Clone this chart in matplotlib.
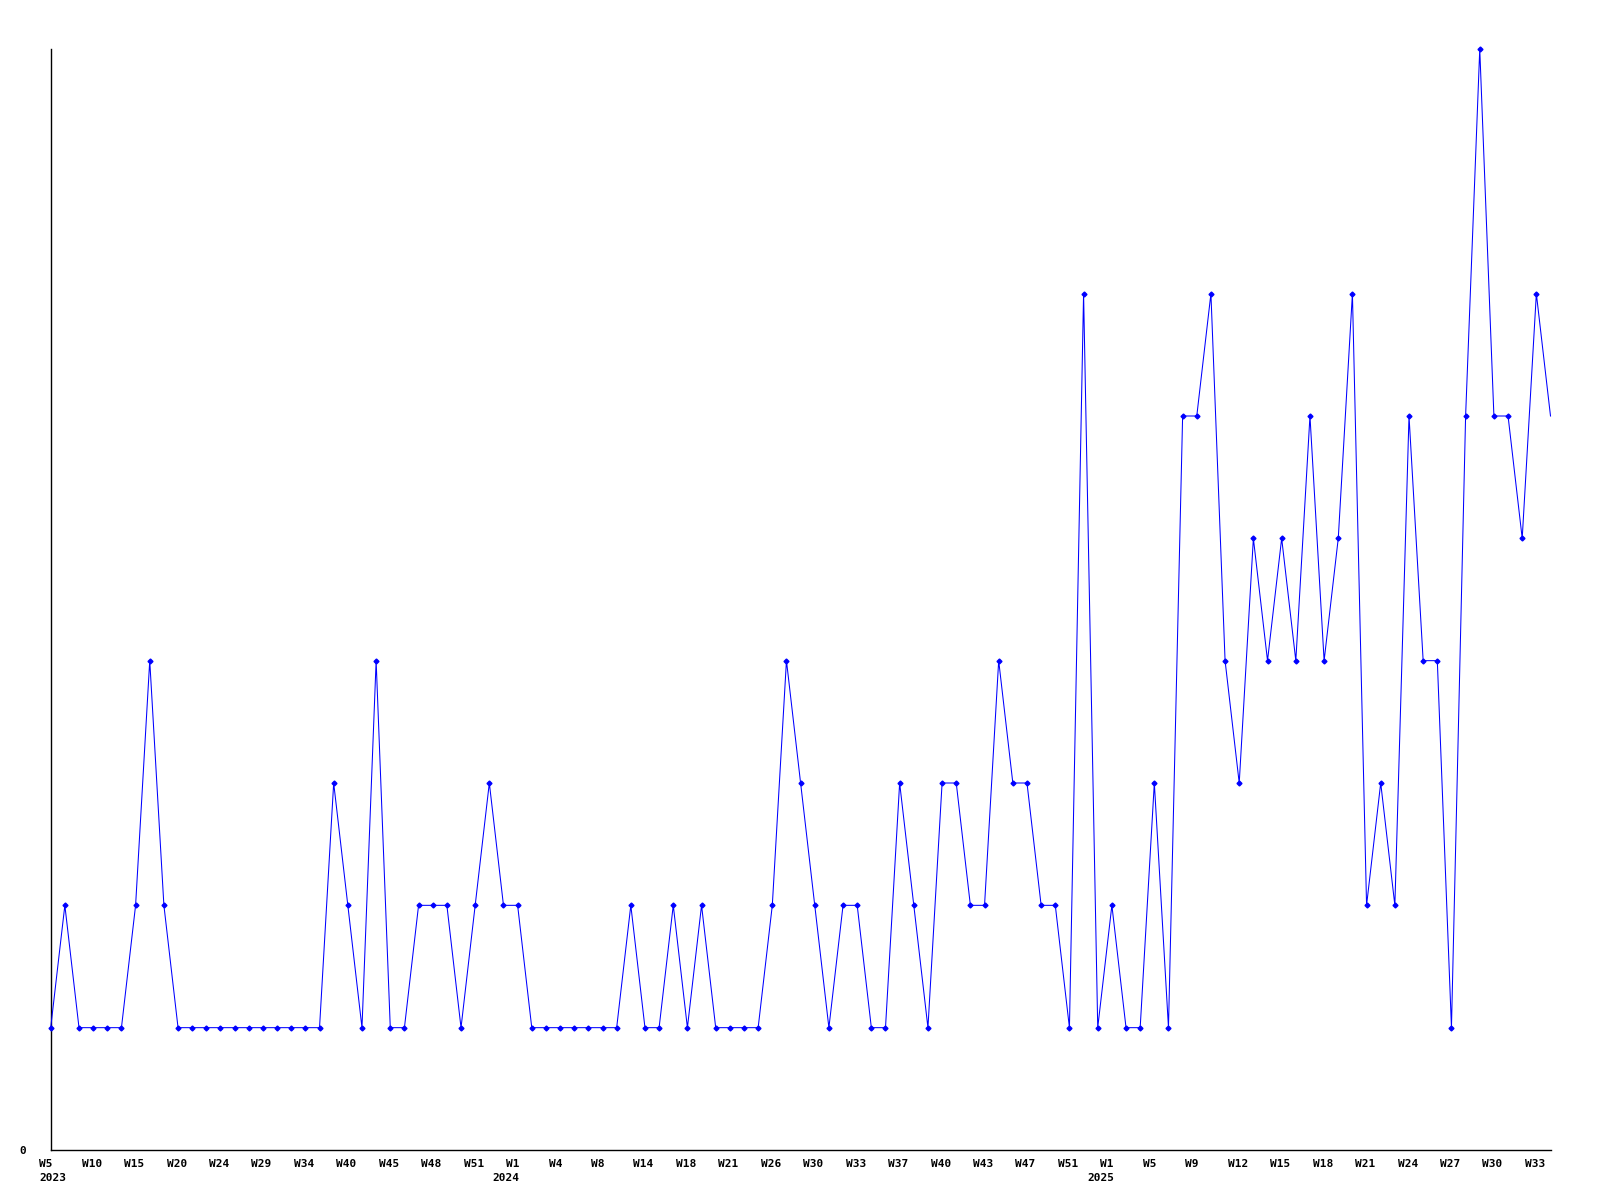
import matplotlib
matplotlib.use("Agg")
import matplotlib.pyplot as plt
from matplotlib.transforms import ScaledTranslation

# ---- data ----
values = [
    1, 2, 1, 1, 1, 1, 2, 4, 2, 1,
    1, 1, 1, 1, 1, 1, 1, 1, 1, 1,
    3, 2, 1, 4, 1, 1, 2, 2, 2, 1,
    2, 3, 2, 2, 1, 1, 1, 1, 1, 1,
    1, 2, 1, 1, 2, 1, 2, 1, 1, 1,
    1, 2, 4, 3, 2, 1, 2, 2, 1, 1,
    3, 2, 1, 3, 3, 2, 2, 4, 3, 3,
    2, 2, 1, 7, 1, 2, 1, 1, 3, 1,
    6, 6, 7, 4, 3, 5, 4, 5, 4, 6,
    4, 5, 7, 2, 3, 2, 6, 4, 4, 1,
    6, 9, 6, 6, 5, 7, 6,
]
week_labels = ['W5', 'W10', 'W15', 'W20', 'W24', 'W29', 'W34', 'W40', 'W45', 'W48',
               'W51', 'W1', 'W4', 'W8', 'W14', 'W18', 'W21', 'W26', 'W30', 'W33',
               'W37', 'W40', 'W43', 'W47', 'W51', 'W1', 'W5', 'W9', 'W12', 'W15',
               'W18', 'W21', 'W24', 'W27', 'W30', 'W33']
label_step = 3
years = ['2023', '2024', '2025']
year_label_slots = [0, 11, 25]   # which week label each year sits under

# ---- figure ----
W, H = 1600, 1200
fig = plt.figure(figsize=(16, 12), dpi=100)
left, right, top, bottom = 50.7, 1550.5, 49, 1150
ax = fig.add_axes([left / W, (H - bottom) / H, (right - left) / W, (bottom - top) / H])

x = list(range(len(values)))
ax.plot(x, values, color='#0000ff', lw=0.75, marker='D', ms=2.5,
        markevery=list(range(len(values) - 1)), clip_on=False, zorder=3)

ax.set_xlim(0, len(values) - 1)
ax.set_ylim(0, 9)

for s in ['top', 'right']:
    ax.spines[s].set_visible(False)
for s in ['left', 'bottom']:
    ax.spines[s].set_color('black')
    ax.spines[s].set_linewidth(1.0)

font = dict(family='DejaVu Sans Mono', weight='bold', size=8)

tick_pos = x[::label_step]
ax.set_xticks(tick_pos)
ax.set_xticklabels(week_labels, ha='left', **font)
ax.tick_params(axis='x', length=0, pad=6.5)
off = ScaledTranslation(-11.5 / 100, 0, fig.dpi_scale_trans)
for lab in ax.get_xticklabels():
    lab.set_transform(lab.get_transform() + off)

ax.set_yticks([0])
ax.set_yticklabels(['0'], **font)
ax.tick_params(axis='y', length=0, pad=18)

for yr, slot in zip(years, year_label_slots):
    px = tick_pos[slot]
    ax.annotate(yr, xy=(px, 0), xycoords=('data', 'axes fraction'),
                xytext=(-11.5 * 0.72, -23 * 0.72), textcoords='offset points',
                ha='left' if slot == 0 else 'center', va='top', **font)

fig.savefig('out.png', dpi=100, facecolor='white')
